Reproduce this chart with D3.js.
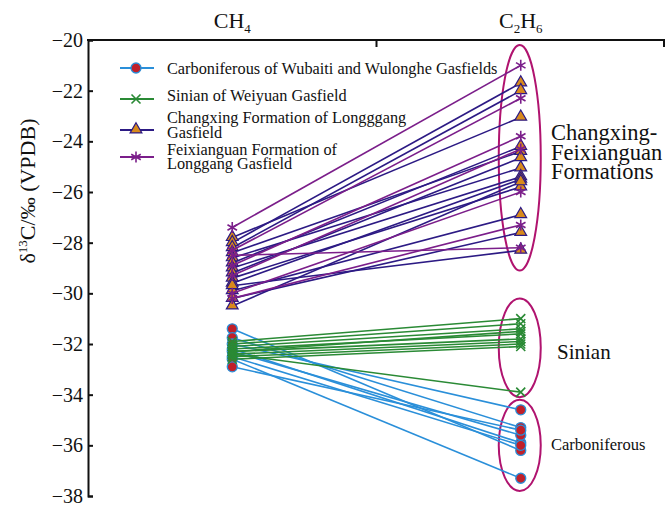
<!DOCTYPE html>
<html>
<head>
<meta charset="utf-8">
<script src="https://cdn.jsdelivr.net/npm/d3@7"></script>
<style>
  body { margin: 0; background: #fff; }
  svg text { font-family: "Liberation Serif", "Times New Roman", Tinos, "DejaVu Serif", serif; fill: #111; }
</style>
</head>
<body>
<div id="chart"></div>
<script>
// categories on the top axis
let gases = ["CH4", "C2H6"];
let gasLabels = [["CH", "4"], ["C", "2", "H", "6"]];

// each pair is [δ13C CH4, δ13C C2H6]
let carboniferous = [
    [-31.4, -36.2], [-31.75, -35.3], [-32.0, -34.6], [-32.2, -35.9],
    [-32.3, -35.6], [-32.5, -36.0], [-32.6, -37.3], [-32.9, -35.4]
];
let sinian = [
    [-31.9, -31.0], [-32.0, -31.2], [-32.1, -31.4], [-32.2, -31.6],
    [-32.3, -31.8], [-32.4, -31.9], [-32.5, -32.0], [-32.3, -31.5],
    [-32.6, -32.1], [-32.4, -33.9]
];
let changxing = [
    [-27.8, -23.05], [-28.0, -21.7], [-28.2, -22.0], [-28.4, -24.4],
    [-28.6, -25.05], [-28.8, -24.2], [-29.0, -25.4], [-29.2, -24.65],
    [-29.4, -25.8], [-29.6, -25.5], [-29.9, -26.9], [-30.2, -27.6],
    [-29.7, -28.3], [-30.5, -25.6]
];
let feixianguan = [
    [-27.4, -21.0], [-28.3, -22.3], [-28.9, -23.8], [-29.3, -24.3],
    [-30.0, -26.0], [-30.2, -27.3], [-28.5, -28.2]
];

let yTicks = [-20, -22, -24, -26, -28, -30, -32, -34, -36, -38];

let seriesNames = [
    ["Carboniferous of Wubaiti and Wulonghe Gasfields"],
    ["Sinian of Weiyuan Gasfield"],
    ["Changxing Formation of Longggang", "Gasfield"],
    ["Feixianguan Formation of", "Longgang Gasfield"]
];

// groups circled on the C2H6 side: [label lines, top value, bottom value]
let groups = [
    [["Changxing-", "Feixianguan", "Formations"], -20.2, -29.1],
    [["Sinian"], -30.2, -34.1],
    [["Carboniferous"], -34.2, -37.8]
];

let width = 667, height = 505;
let margin = {top: 40, right: 2, bottom: 9, left: 88};
let serif = "'Liberation Serif', 'Times New Roman', Tinos, 'DejaVu Serif', serif";

let svg = d3.select("#chart").append("svg")
    .attr("width", width)
    .attr("height", height)
    .attr("font-family", serif);

let x = d3.scaleBand()
    .domain(gases)
    .range([margin.left, width - margin.right]);

let y = d3.scaleLinear()
    .domain([-38, -20])
    .range([height - margin.bottom, margin.top]);

let cx = g => x(g) + x.bandwidth() / 2;

// left axis
let yAxis = svg.append("g")
    .attr("transform", "translate(" + margin.left + ",0)")
    .call(d3.axisLeft(y).tickValues(yTicks).tickSize(-5).tickPadding(5)
        .tickFormat(d => "\u2212" + Math.abs(d)));
yAxis.attr("font-family", serif);
yAxis.select(".domain").attr("stroke", "#111").attr("stroke-width", 2);
yAxis.selectAll(".tick line").attr("stroke", "#111").attr("stroke-width", 2);
yAxis.selectAll(".tick text")
    .style("font-size", "20px")
    .attr("fill", "#111");

// top axis line with ticks at band edges
svg.append("line")
    .attr("x1", margin.left - 1).attr("x2", width - margin.right)
    .attr("y1", margin.top).attr("y2", margin.top)
    .attr("stroke", "#111").attr("stroke-width", 2);
svg.selectAll(".topTick")
    .data([gases[1], null])
    .enter().append("line")
    .attr("x1", d => d ? x(d) : width - margin.right - 1)
    .attr("x2", d => d ? x(d) : width - margin.right - 1)
    .attr("y1", margin.top).attr("y2", margin.top + 7)
    .attr("stroke", "#111").attr("stroke-width", 2);

svg.selectAll(".gasLabel")
    .data(gases)
    .enter().append("text")
    .attr("x", d => cx(d))
    .attr("y", 28)
    .attr("text-anchor", "middle")
    .style("font-size", "22px")
    .each(function (d, i) {
        let parts = gasLabels[i];
        let t = d3.select(this);
        parts.forEach((p, j) => {
            let sub = j % 2 === 1;
            t.append("tspan")
                .attr("dy", sub ? 5 : (j === 0 ? 0 : -5))
                .style("font-size", sub ? "13px" : "22px")
                .text(p);
        });
    });

// y axis title
svg.append("text")
    .attr("transform", "translate(35,191) rotate(-90)")
    .attr("text-anchor", "middle")
    .style("font-size", "22px")
    .each(function () {
        let t = d3.select(this);
        t.append("tspan").text("\u03b4");
        t.append("tspan").attr("dy", -8).style("font-size", "13px").text("13");
        t.append("tspan").attr("dy", 8).text("C/\u2030 (VPDB)");
    });

// ellipses around groups
let ellipseColor = "#b0136f";
groups.forEach(function (g) {
    let top = y(g[1]), bot = y(g[2]);
    svg.append("ellipse")
        .attr("cx", cx("C2H6") - 1)
        .attr("cy", (top + bot) / 2)
        .attr("rx", 21)
        .attr("ry", (bot - top) / 2)
        .attr("fill", "none")
        .attr("stroke", ellipseColor)
        .attr("stroke-width", 2);
});

let groupLabelPos = [[551, 140, "22.5px"], [557, 359, "21px"], [551, 450, "16.5px"]];
svg.selectAll(".groupLabel")
    .data(groups)
    .enter().append("text")
    .attr("x", (d, i) => groupLabelPos[i][0])
    .attr("y", (d, i) => groupLabelPos[i][1])
    .style("font-size", (d, i) => groupLabelPos[i][2])
    .each(function (d, i) {
        let t = d3.select(this);
        d[0].forEach((line, j) => {
            t.append("tspan").attr("x", t.attr("x")).attr("dy", j === 0 ? 0 : 19.5).text(line);
        });
    });

// markers
function drawMarker(g, kind, px, py, st) {
    if (kind === "circle") {
        g.append("circle").attr("cx", px).attr("cy", py).attr("r", 5)
            .attr("fill", "#c0202a").attr("stroke", st.color).attr("stroke-width", 1.3);
    } else if (kind === "cross") {
        let s = 4.5;
        g.append("path")
            .attr("d", "M" + (px - s) + "," + (py - s) + "L" + (px + s) + "," + (py + s) +
                "M" + (px - s) + "," + (py + s) + "L" + (px + s) + "," + (py - s))
            .attr("stroke", st.color).attr("stroke-width", 1.6).attr("fill", "none");
    } else if (kind === "triangle") {
        g.append("path")
            .attr("d", d3.symbol(d3.symbolTriangle, 60)())
            .attr("transform", "translate(" + px + "," + (py - 0.5) + ")")
            .attr("fill", "#d88a1c").attr("stroke", st.color).attr("stroke-width", 1.2);
    } else {
        let s = 5.5, d = "";
        [0, 60, 120].forEach(a => {
            let r = a * Math.PI / 180;
            d += "M" + (px - s * Math.sin(r)) + "," + (py - s * Math.cos(r)) +
                "L" + (px + s * Math.sin(r)) + "," + (py + s * Math.cos(r));
        });
        g.append("path").attr("d", d).attr("stroke", st.color)
            .attr("stroke-width", 1.6).attr("fill", "none");
    }
}

let series = [
    {data: carboniferous, color: "#2a8fd9", marker: "circle"},
    {data: sinian, color: "#2a8a35", marker: "cross"},
    {data: changxing, color: "#2c1a84", marker: "triangle"},
    {data: feixianguan, color: "#7b1e8a", marker: "star"}
];

series.forEach(function (st) {
    let g = svg.append("g");
    g.selectAll("line")
        .data(st.data)
        .enter().append("line")
        .attr("x1", cx("CH4")).attr("x2", cx("C2H6"))
        .attr("y1", d => y(d[0])).attr("y2", d => y(d[1]))
        .attr("stroke", st.color).attr("stroke-width", 1.6);
    st.data.forEach(function (d) {
        drawMarker(g, st.marker, cx("CH4"), y(d[0]), st);
        drawMarker(g, st.marker, cx("C2H6"), y(d[1]), st);
    });
});

// legend: [marker y, first text baseline]
let legendRows = [[68, 73.5], [99, 100.5], [130, 123], [157, 154.5]];
let legend = svg.append("g");
series.forEach(function (st, i) {
    let ly = legendRows[i][0];
    legend.append("line")
        .attr("x1", 120).attr("x2", 154)
        .attr("y1", ly).attr("y2", ly)
        .attr("stroke", st.color).attr("stroke-width", 1.8);
    drawMarker(legend, st.marker, 136, ly, st);
    let t = legend.append("text")
        .attr("x", 167)
        .attr("y", legendRows[i][1])
        .style("font-size", "16.3px");
    seriesNames[i].forEach((n, j) => {
        t.append("tspan").attr("x", 167).attr("dy", j === 0 ? 0 : 14.5).text(n);
    });
});
</script>
</body>
</html>
